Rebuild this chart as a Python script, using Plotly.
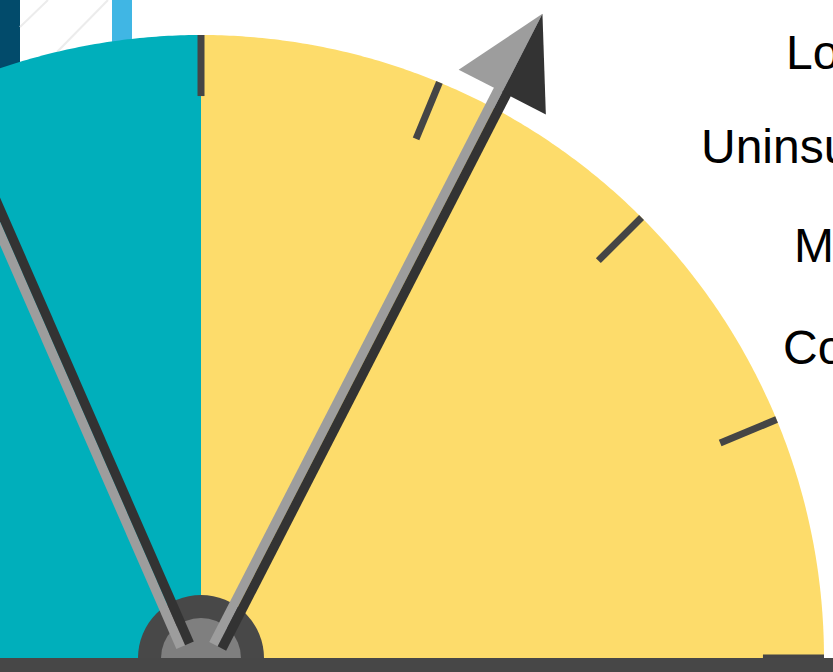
import numpy as np
import plotly.graph_objects as go

# ---------------- data ----------------
segment_edges = [0, 50, 100]                 # gauge value bands
segment_names = ["Left band", "Right band"]
tick_values = [0, 12.5, 25, 37.5, 50, 62.5, 75, 87.5, 100]
needle_values = [36.9, 65.1]
labels = ["Lo", "Uninsu", "M", "Co"]
side_bar_x = [0, 112]                        # partially visible bars behind the gauge (px)

# ---------------- layout constants ----------------
W, H = 833, 672
R_PX = 623.0
CX_PX, CY_PX = 201.0, 658.0
TEAL = "#00AFBB"
YELLOW = "#FDDC6B"
TICK_C = "#454545"
HUB_OUT = "#484848"
HUB_IN = "#7F7F7F"
N_LIGHT = "#9D9D9D"
N_DARK = "#333333"
BASE_C = "#474747"
LABEL_SIZE = 48
label_x_px = [784, 699, 792, 781]
label_y_px = [52, 146, 245, 347]


def u(px):
    return px / R_PX


def P(xp, yp):
    return ((xp - CX_PX) / R_PX, (CY_PX - yp) / R_PX)


def ang(v):
    return np.radians(180 - v / 100.0 * 180)


def path(pts):
    return "M " + " L ".join(f"{x:.5f},{y:.5f}" for x, y in pts) + " Z"


shapes = []

# background bars peeking in the top-left
bar_cols = ["#024B6B", "#40B6E4"]
bar_w = 20
bar_bottom = [150, 120]
for bx, col, bb in zip(side_bar_x, bar_cols, bar_bottom):
    x0, y0 = P(bx, 0)
    x1, y1 = P(bx + bar_w, bb)
    shapes.append(dict(type="rect", x0=x0, x1=x1, y0=y1, y1=y0,
                       fillcolor=col, line=dict(width=0), layer="above"))
for (a, b) in [((20, 27), (48, 0)), ((57, 52), (108, 0))]:
    xa, ya = P(*a)
    xb, yb = P(*b)
    shapes.append(dict(type="line", x0=xa, y0=ya, x1=xb, y1=yb,
                       line=dict(color="#ECECEC", width=2), layer="above"))

# gauge bands
for (v0, v1), col in zip(zip(segment_edges[:-1], segment_edges[1:]), [TEAL, YELLOW]):
    t = np.linspace(ang(v0), ang(v1), 240)
    pts = [(0.0, 0.0)] + [(np.cos(a), np.sin(a)) for a in t]
    shapes.append(dict(type="path", path=path(pts), fillcolor=col,
                       line=dict(width=0), layer="above"))

# ticks
for tv in tick_values:
    a = ang(tv)
    r0, r1 = 0.902, 1.0
    shapes.append(dict(type="line", x0=r0 * np.cos(a), y0=r0 * np.sin(a),
                       x1=r1 * np.cos(a), y1=r1 * np.sin(a),
                       line=dict(color=TICK_C, width=7), layer="above"))

# hub
for r, col in [(u(63), HUB_OUT), (u(40), HUB_IN)]:
    shapes.append(dict(type="circle", x0=-r, x1=r, y0=-r, y1=r,
                       fillcolor=col, line=dict(width=0), layer="above"))

# needles
w = u(19)
r_start = u(18)
L_base = u(641)
L_tip = u(729)
hw = u(49)
for nv in needle_values:
    a = ang(nv)
    ux, uy = np.cos(a), np.sin(a)
    nx, ny = -uy, ux
    sgn = np.sign(ux) if ux != 0 else 1.0
    ox, oy = -sgn * nx * w / 2, -sgn * ny * w / 2

    def q(al, pe):
        return (ox + ux * al + nx * pe, oy + uy * al + ny * pe)

    light = [q(r_start, 0), q(L_base + u(1), 0), q(L_base + u(1), w / 2), q(r_start, w / 2)]
    dark = [q(r_start, 0), q(L_base + u(1), 0), q(L_base + u(1), -w / 2), q(r_start, -w / 2)]
    head_l = [q(L_tip, 0), q(L_base, hw), q(L_base, 0)]
    head_d = [q(L_tip, 0), q(L_base, -hw), q(L_base, 0)]
    for poly, col in [(light, N_LIGHT), (dark, N_DARK), (head_l, N_LIGHT), (head_d, N_DARK)]:
        shapes.append(dict(type="path", path=path(poly), fillcolor=col,
                           line=dict(width=0), layer="above"))

# base bar
bx0, by0 = P(0, CY_PX)
bx1, by1 = P(W, H)
shapes.append(dict(type="rect", x0=bx0, x1=bx1, y0=by1, y1=by0,
                   fillcolor=BASE_C, line=dict(width=0), layer="above"))

annotations = []
for lab, lx, ly in zip(labels, label_x_px, label_y_px):
    x, y = P(lx, ly)
    annotations.append(dict(x=x, y=y, xref="x", yref="y", text=lab, showarrow=False,
                            xanchor="left", yanchor="middle",
                            font=dict(family="Liberation Sans, Arial, sans-serif",
                                      size=LABEL_SIZE, color="#000000")))

fig = go.Figure()
fig.add_trace(go.Scatter(x=[0], y=[0], mode="markers",
                         marker=dict(opacity=0), hoverinfo="skip", showlegend=False))
xr = [(-CX_PX) / R_PX, (W - CX_PX) / R_PX]
yr = [(CY_PX - H) / R_PX, CY_PX / R_PX]
fig.update_layout(
    width=W, height=H,
    margin=dict(l=0, r=0, t=0, b=0),
    paper_bgcolor="white", plot_bgcolor="white",
    xaxis=dict(range=xr, visible=False, fixedrange=True),
    yaxis=dict(range=yr, visible=False, fixedrange=True),
    shapes=shapes, annotations=annotations, showlegend=False,
)
fig.write_html("out.html", config={"displayModeBar": False},
               post_script="document.body.style.margin='0';document.body.style.overflow='hidden';")
